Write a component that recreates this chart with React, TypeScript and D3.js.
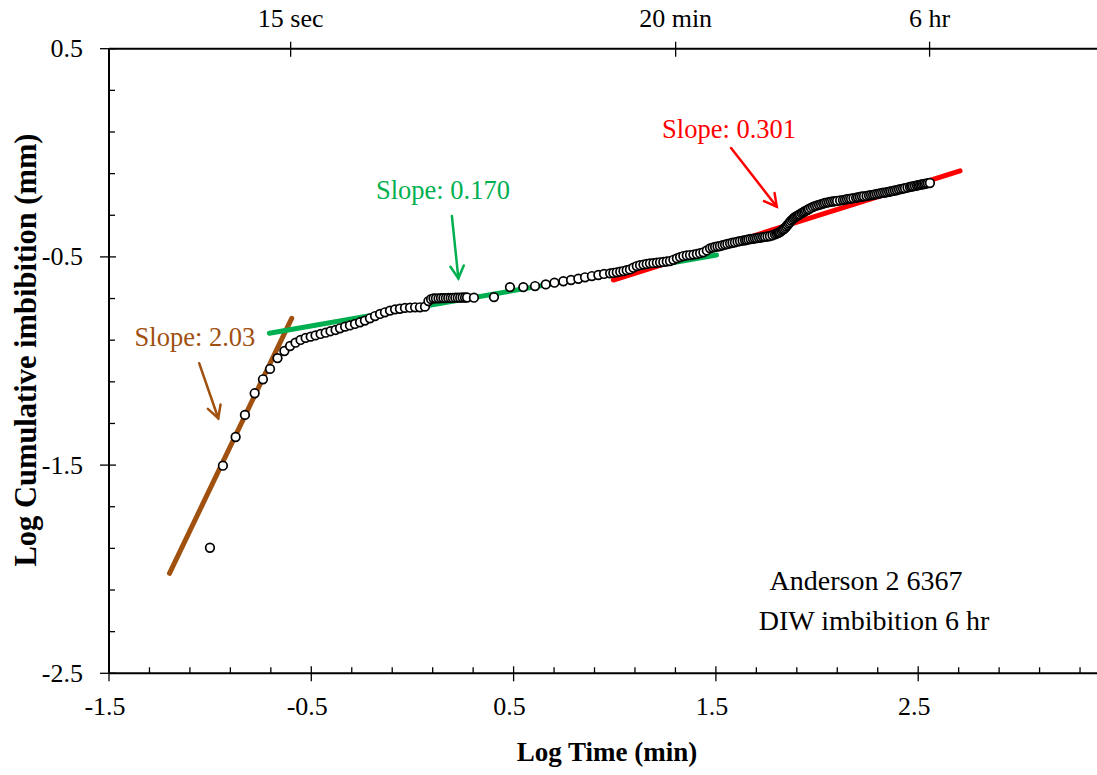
import React from "react";
import * as d3 from "d3";

// ---- data: [log time (min), log cumulative imbibition (mm)] ----
const earlyPoints: [number, number][] = [
  [-1.001, -1.897], [-0.937, -1.503], [-0.874, -1.365], [-0.828, -1.259], [-0.78, -1.155],
  [-0.739, -1.088], [-0.704, -1.038], [-0.667, -0.986], [-0.633, -0.952], [-0.605, -0.928],
  [-0.578, -0.912], [-0.553, -0.899], [-0.528, -0.889], [-0.503, -0.883], [-0.479, -0.877],
  [-0.454, -0.87], [-0.429, -0.864], [-0.405, -0.857], [-0.38, -0.851], [-0.358, -0.843],
  [-0.333, -0.835], [-0.309, -0.829], [-0.284, -0.822], [-0.259, -0.814], [-0.235, -0.806],
  [-0.21, -0.795], [-0.185, -0.784], [-0.16, -0.774], [-0.136, -0.766], [-0.111, -0.758],
  [-0.086, -0.752], [-0.062, -0.749], [-0.037, -0.745], [-0.012, -0.744], [0.013, -0.742],
  [0.037, -0.742], [0.062, -0.739], [0.079, -0.712], [0.092, -0.703], [0.104, -0.699],
  [0.116, -0.699], [0.129, -0.699], [0.141, -0.698], [0.153, -0.698], [0.165, -0.698],
  [0.177, -0.697], [0.189, -0.697], [0.2, -0.697], [0.212, -0.696], [0.224, -0.696],
  [0.236, -0.696], [0.248, -0.695], [0.26, -0.695], [0.27, -0.695],
];
const midPoints: [number, number][] = [
  [0.304, -0.696], [0.403, -0.693], [0.482, -0.645], [0.548, -0.645], [0.606, -0.64],
  [0.659, -0.632], [0.702, -0.624], [0.746, -0.617], [0.784, -0.611], [0.82, -0.605],
  [0.853, -0.598], [0.887, -0.592], [0.919, -0.587], [0.947, -0.582],
];
const latePoints: [number, number][] = [
  [0.977, -0.579], [0.993, -0.577], [1.01, -0.574], [1.027, -0.571], [1.043, -0.568],
  [1.059, -0.564], [1.075, -0.56], [1.092, -0.552], [1.109, -0.544], [1.125, -0.54],
  [1.142, -0.537], [1.158, -0.534], [1.174, -0.531], [1.191, -0.53], [1.208, -0.528],
  [1.224, -0.526], [1.24, -0.524], [1.257, -0.522], [1.273, -0.52], [1.29, -0.514],
  [1.307, -0.507], [1.323, -0.501], [1.339, -0.496], [1.356, -0.493], [1.372, -0.491],
  [1.389, -0.489], [1.406, -0.486], [1.422, -0.482], [1.438, -0.478], [1.455, -0.469],
  [1.471, -0.459], [1.484, -0.455], [1.496, -0.452], [1.508, -0.45], [1.52, -0.448],
  [1.533, -0.444], [1.545, -0.441], [1.557, -0.438], [1.57, -0.435], [1.582, -0.432],
  [1.594, -0.43], [1.607, -0.427], [1.619, -0.424], [1.632, -0.422], [1.644, -0.42],
  [1.652, -0.418], [1.661, -0.416], [1.672, -0.414], [1.683, -0.413], [1.693, -0.411],
  [1.703, -0.41], [1.713, -0.408], [1.723, -0.407], [1.733, -0.405], [1.743, -0.404],
  [1.755, -0.402], [1.767, -0.4], [1.78, -0.396], [1.792, -0.392], [1.8, -0.388],
  [1.807, -0.385], [1.812, -0.383], [1.817, -0.38], [1.824, -0.375], [1.83, -0.37],
  [1.836, -0.366], [1.842, -0.361], [1.848, -0.354], [1.854, -0.347], [1.86, -0.34],
  [1.866, -0.333], [1.872, -0.326], [1.879, -0.32], [1.885, -0.314], [1.891, -0.309],
  [1.897, -0.305], [1.904, -0.302], [1.91, -0.298], [1.916, -0.295], [1.924, -0.29],
  [1.931, -0.286], [1.938, -0.282], [1.945, -0.278], [1.953, -0.274], [1.96, -0.27],
  [1.97, -0.265], [1.98, -0.26], [1.99, -0.256], [2.0, -0.253], [2.01, -0.25],
  [2.02, -0.247], [2.03, -0.244], [2.039, -0.241], [2.049, -0.239], [2.059, -0.237],
  [2.069, -0.235], [2.079, -0.234], [2.089, -0.232], [2.099, -0.231], [2.114, -0.229],
  [2.128, -0.227], [2.138, -0.225], [2.148, -0.223], [2.158, -0.221], [2.168, -0.22],
  [2.18, -0.218], [2.193, -0.216], [2.202, -0.214], [2.212, -0.212], [2.222, -0.21],
  [2.232, -0.209], [2.245, -0.207], [2.257, -0.205], [2.267, -0.203], [2.277, -0.202],
  [2.286, -0.2], [2.296, -0.198], [2.306, -0.196], [2.316, -0.194], [2.326, -0.192],
  [2.336, -0.191], [2.346, -0.189], [2.356, -0.187], [2.365, -0.185], [2.375, -0.183],
  [2.385, -0.181], [2.395, -0.179], [2.405, -0.176], [2.415, -0.174], [2.425, -0.172],
  [2.435, -0.17], [2.447, -0.167], [2.459, -0.164], [2.466, -0.162], [2.474, -0.161],
  [2.484, -0.159], [2.494, -0.157], [2.501, -0.155], [2.509, -0.154], [2.516, -0.152],
  [2.524, -0.151], [2.531, -0.149], [2.539, -0.148], [2.548, -0.146], [2.558, -0.145],
];

// fitted line segments (endpoints in data units)
const fitNames = ["early", "middle", "late"];
const fitX0 = [-1.201, -0.707, 0.993];
const fitY0 = [-2.02, -0.867, -0.611];
const fitX1 = [-0.597, 1.503, 2.707];
const fitY1 = [-0.795, -0.491, -0.087];
const fitColors = ["#A0500F", "#00B050", "#FF0000"];

const slopeLabels = ["Slope: 2.03", "Slope: 0.170", "Slope: 0.301"];
const labelX = [-1.075, 0.151, 1.565];
const labelY = [-0.93, -0.22, 0.07];
const arrowX0 = [-1.054, 0.195, 1.575];
const arrowY0 = [-1.011, -0.304, 0.023];
const arrowX1 = [-0.96, 0.227, 1.801];
const arrowY1 = [-1.275, -0.603, -0.259];

const xTicks = [-1.5, -0.5, 0.5, 1.5, 2.5];
const yTicks = [0.5, -0.5, -1.5, -2.5];
const topTickMinutes = [0.25, 20, 360];
const topTickLabels = ["15 sec", "20 min", "6 hr"];

const W = 1097;
const H = 775;
const FONT = "'Liberation Serif', 'Times New Roman', serif";

export default function App() {
  const x = d3.scaleLinear().domain([-1.5, 3.5]).range([109, 109 + 5 * 202.3]);
  const y = d3.scaleLinear().domain([-2.5, 0.5]).range([673.3, 48.7]);

  const xMinor = d3.range(-1.5, 3.5001, 0.2).filter((v) => {
    const r = (v + 1.5) % 1;
    return r > 0.05 && r < 0.95;
  });
  const yMinor = d3.range(-2.5, 0.5001, 0.2).filter((v) => {
    const r = (v + 2.5) % 1;
    return r > 0.05 && r < 0.95;
  });

  const line = d3.line<[number, number]>().x((d) => x(d[0])).y((d) => y(d[1]));
  const pts = [...earlyPoints, ...midPoints, ...latePoints];

  const arrowHead = (i: number) => {
    const x0 = x(arrowX0[i]), y0 = y(arrowY0[i]);
    const x1 = x(arrowX1[i]), y1 = y(arrowY1[i]);
    const ang = Math.atan2(y1 - y0, x1 - x0);
    const L = 14, a = 0.5;
    const p1 = [x1 - L * Math.cos(ang - a), y1 - L * Math.sin(ang - a)];
    const p2 = [x1 - L * Math.cos(ang + a), y1 - L * Math.sin(ang + a)];
    return `M${p1[0]},${p1[1]}L${x1},${y1}L${p2[0]},${p2[1]}`;
  };

  return (
    <svg width={W} height={H} style={{ position: "absolute", left: 0, top: 0, background: "#fff" }}>
      <rect x={0} y={0} width={W} height={H} fill="#fff" />
      {/* axes lines */}
      <g stroke="#000" strokeWidth={2} fill="none">
        <line x1={x(-1.5)} x2={x(3.5)} y1={y(-2.5)} y2={y(-2.5)} />
        <line x1={x(-1.5)} x2={x(3.5)} y1={y(0.5)} y2={y(0.5)} />
        <line x1={x(-1.5)} x2={x(-1.5)} y1={y(-2.5)} y2={y(0.5)} />
      </g>
      {/* ticks */}
      <g stroke="#000" strokeWidth={1.3}>
        {xTicks.map((t) => (
          <line key={"xt" + t} x1={x(t)} x2={x(t)} y1={y(-2.5) - 7} y2={y(-2.5) + 8} />
        ))}
        {xMinor.map((t) => (
          <line key={"xm" + t} x1={x(t)} x2={x(t)} y1={y(-2.5) - 6} y2={y(-2.5)} />
        ))}
        {yTicks.map((t) => (
          <line key={"yt" + t} x1={x(-1.5) - 9} x2={x(-1.5) + 7} y1={y(t)} y2={y(t)} />
        ))}
        {yMinor.map((t) => (
          <line key={"ym" + t} x1={x(-1.5)} x2={x(-1.5) + 6} y1={y(t)} y2={y(t)} />
        ))}
        {topTickMinutes.map((m) => (
          <line key={"tt" + m} x1={x(Math.log10(m))} x2={x(Math.log10(m))} y1={y(0.5) - 7} y2={y(0.5) + 8} />
        ))}
      </g>
      {/* tick labels */}
      <g fontFamily={FONT} fontSize={26} fill="#000">
        {xTicks.map((t) => (
          <text key={"xl" + t} x={x(t) - 4} y={715} textAnchor="middle">{t.toFixed(1)}</text>
        ))}
        {yTicks.map((t) => (
          <text key={"yl" + t} x={83} y={y(t) + 8.5} textAnchor="end">{t.toFixed(1)}</text>
        ))}
        {topTickMinutes.map((m, i) => (
          <text key={"tl" + m} x={x(Math.log10(m))} y={27} textAnchor="middle">{topTickLabels[i]}</text>
        ))}
      </g>
      {/* axis titles */}
      <text x={607} y={761} textAnchor="middle" fontFamily={FONT} fontWeight="bold" fontSize={27}>Log Time (min)</text>
      <text transform={`translate(36,350) rotate(-90)`} textAnchor="middle" fontFamily={FONT} fontWeight="bold" fontSize={30.5}>Log Cumulative imbibition (mm)</text>

      {/* fit lines */}
      {fitNames.map((n, i) => (
        <path key={n} d={line([[fitX0[i], fitY0[i]], [fitX1[i], fitY1[i]]]) || ""} stroke={fitColors[i]} strokeWidth={5} strokeLinecap="round" fill="none" />
      ))}

      {/* data points */}
      <g fill="#fff" stroke="#000" strokeWidth={1.7}>
        {pts.map((p, i) => (
          <circle key={i} cx={x(p[0])} cy={y(p[1])} r={4.3} />
        ))}
      </g>

      {/* annotations */}
      {fitNames.map((n, i) => (
        <g key={"a" + n} stroke={fitColors[i]} strokeWidth={2.5} fill="none" strokeLinecap="round" strokeLinejoin="miter">
          <line x1={x(arrowX0[i])} y1={y(arrowY0[i])} x2={x(arrowX1[i])} y2={y(arrowY1[i])} />
          <path d={arrowHead(i)} />
        </g>
      ))}
      {fitNames.map((n, i) => (
        <text key={"s" + n} x={x(labelX[i])} y={y(labelY[i])} textAnchor="middle" fontFamily={FONT} fontSize={26.5} fill={fitColors[i]}>{slopeLabels[i]}</text>
      ))}
      <text x={866} y={590} textAnchor="middle" fontFamily={FONT} fontSize={28}>Anderson 2 6367</text>
      <text x={874} y={630} textAnchor="middle" fontFamily={FONT} fontSize={28}>DIW imbibition 6 hr</text>
    </svg>
  );
}
